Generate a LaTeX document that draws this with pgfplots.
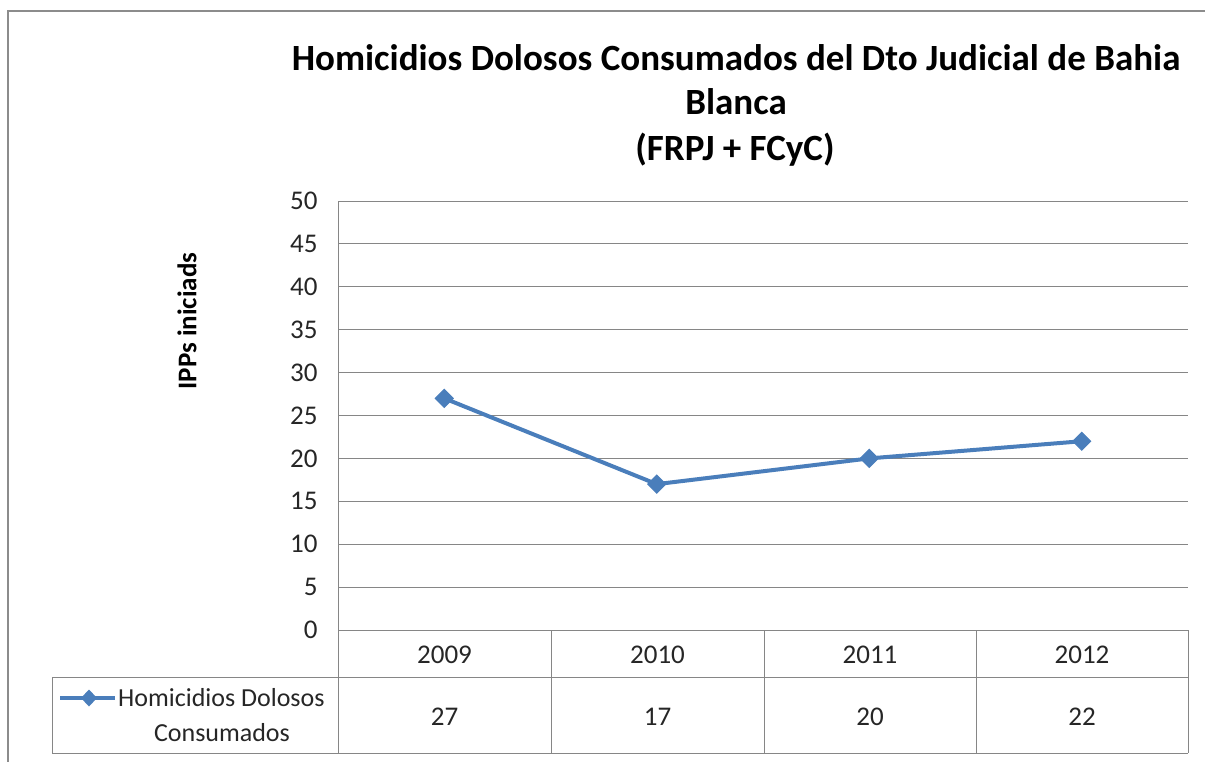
\documentclass[border=0pt]{standalone}
\usepackage{fontspec}
\setmainfont{Carlito}
\usepackage{pgfplots}
\pgfplotsset{compat=1.18}
\definecolor{serie}{HTML}{4A7EBB}
\definecolor{grille}{HTML}{868686}
\definecolor{cadre}{HTML}{8C8C8C}
\begin{document}
\begin{tikzpicture}
  \useasboundingbox (0pt,0pt) rectangle (1205pt,761pt);
  \begin{scope}[x=1pt,y=1pt]
    % chart frame (cut on the right and bottom)
    \draw[cadre, line width=2pt] (8,-5) -- (8,750) -- (1210,750);
    % title
    \node[font=\fontsize{37}{37}\selectfont\bfseries] at (736,703) {Homicidios Dolosos Consumados del Dto Judicial de Bahia};
    \node[font=\fontsize{37}{37}\selectfont\bfseries] at (736,659) {Blanca};
    \node[font=\fontsize{37}{37}\selectfont\bfseries] at (735,611) {(FRPJ + FCyC)};
    \node[font=\fontsize{27}{27}\selectfont\bfseries, rotate=90] at (187,440) {IPPs iniciads};
  \end{scope}

  \begin{axis}[
    at={(338pt,131pt)}, anchor=south west,
    width=850pt, height=429pt, scale only axis,
    xmin=0.5, xmax=4.5,
    ymin=0, ymax=50,
    ytick={0,5,...,50},
    xtick=\empty,
    axis lines*=left,
    axis line style={grille, line width=1pt},
    ymajorgrids,
    grid style={grille, line width=1pt},
    major tick length=0pt,
    yticklabel style={font=\fontsize{27}{27}\selectfont, text=black!85, xshift=-17pt},
    /pgf/number format/assume math mode=true,
    clip=false
  ]
  \addplot[serie, line width=4pt, mark=diamond*, mark size=9pt,
    mark options={xscale=1.33, line width=1pt}]
    coordinates {(1,27) (2,17) (3,20) (4,22)};
  \end{axis}

  \begin{scope}[x=1pt,y=1pt]
    % data table below the axis
    \begin{scope}[grille, line width=1pt]
      \draw (338,131) -- (1188,131);
      \draw (52,84) -- (1188,84);
      \draw (52,8) -- (1188,8);
      \draw (52,84) -- (52,8);
      \foreach \x in {338,551,764,976,1188} \draw (\x,131) -- (\x,8);
    \end{scope}
    \begin{scope}[font=\fontsize{27}{27}\selectfont, text=black!85]
      \node at (444.5,106) {2009};
      \node at (657.5,106) {2010};
      \node at (870,106) {2011};
      \node at (1082,106) {2012};
      \node at (444.5,44) {27};
      \node at (657.5,44) {17};
      \node at (870,44) {20};
      \node at (1082,44) {22};
    \end{scope}
    \begin{scope}[font=\fontsize{26}{26}\selectfont, text=black!85]
      \node[anchor=base west, inner sep=0pt] at (118,55) {Homicidios Dolosos};
      \node[anchor=base, inner sep=0pt] at (222,20) {Consumados};
    \end{scope}
    \draw[serie, line width=4pt] (60,63) -- (115,63);
    \fill[serie] (89,54.5) -- (97,63) -- (89,71.5) -- (81,63) -- cycle;
  \end{scope}
\end{tikzpicture}
\end{document}
